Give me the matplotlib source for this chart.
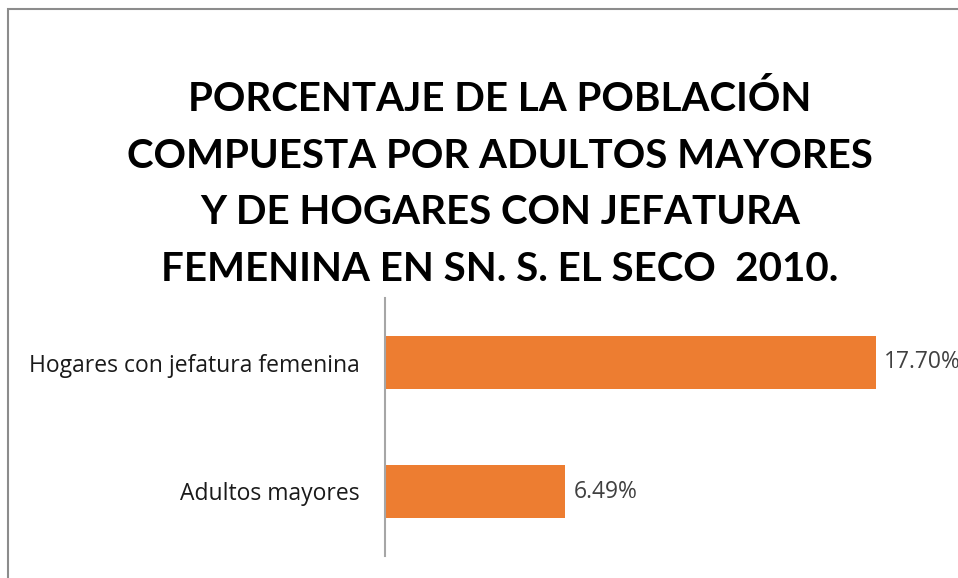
import matplotlib
matplotlib.use("Agg")
import matplotlib.pyplot as plt
from matplotlib.patches import Rectangle

# datos
categorias = ["Adultos mayores", "Hogares con jefatura femenina"]
valores = [6.49, 17.70]
etiquetas = ["6.49%", "17.70%"]
titulo = ("PORCENTAJE DE LA POBLACIÓN\nCOMPUESTA POR ADULTOS MAYORES\n"
          "Y DE HOGARES CON JEFATURA\nFEMENINA EN SN. S. EL SECO  2010.")

naranja = "#ED7D31"
gris_texto = "#404040"

plt.rcParams["font.family"] = ["Open Sans", "DejaVu Sans"]

fig = plt.figure(figsize=(9.58, 5.78), dpi=100)
fig.patch.set_facecolor("white")

# marco gris del grafico (sale por la derecha y abajo)
fig.patches.append(Rectangle((8 / 958, -0.1), 1.2, 1 - 9 / 578 + 0.1,
                             transform=fig.transFigure, fill=False,
                             edgecolor="#8c8c8c", linewidth=1.5))

ax = fig.add_axes([385 / 958, 1 - 556 / 578, 1 - 385 / 958, 258 / 578])
y = list(range(len(categorias)))
ax.barh(y, valores, height=0.41, color=naranja)
ax.set_xlim(0, 17.70 * (958 - 385) / 491)
ax.set_ylim(-0.5, 1.5)
ax.set_yticks(y)
ax.set_yticklabels(categorias, fontsize=16.5, color="#1a1a1a")
ax.tick_params(axis="y", length=0, pad=18)
ax.set_xticks([])
for s in ["top", "right", "bottom"]:
    ax.spines[s].set_visible(False)
ax.spines["left"].set_color("#a6a6a6")
ax.spines["left"].set_linewidth(1.5)

for yi, v, t in zip(y, valores, etiquetas):
    ax.annotate(t, (v, yi), xytext=(6, 0), textcoords="offset points",
                va="center", ha="left", fontsize=16.5, color=gris_texto)

fig.text(500 / 958, 1 - 184 / 578, titulo, ha="center", va="center",
         fontsize=29, fontweight="bold", color="black", linespacing=1.65,
         family=["Lato", "DejaVu Sans"])

fig.savefig("out.png", dpi=100, facecolor="white")
